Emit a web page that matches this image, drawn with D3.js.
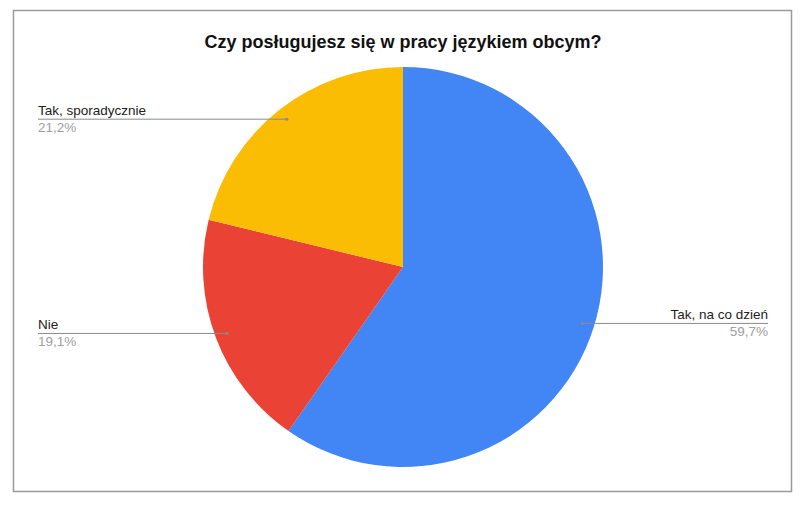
<!DOCTYPE html>
<html>
<head>
<meta charset="utf-8">
<script src="https://cdn.jsdelivr.net/npm/d3@7"></script>
<style>
  body { margin: 0; background: #fff; }
  text { font-family: "Liberation Sans", Arial, sans-serif; }
</style>
</head>
<body>
<div id="chart"></div>
<script>
var svgWidth = 807;
var svgHeight = 517;

// data
var categories = ["Tak, na co dzień", "Nie", "Tak, sporadycznie"];
var shares = [59.7, 19.1, 21.2];
var colors = ["#4285f4", "#ea4335", "#fbbc04"];
var title = "Czy posługujesz się w pracy językiem obcym?";

var cx = 403, cy = 267, radius = 200;

var svg = d3.select("#chart")
  .append("svg")
  .attr("width", svgWidth)
  .attr("height", svgHeight);

svg.append("rect")
  .attr("width", svgWidth)
  .attr("height", svgHeight)
  .attr("fill", "#fff");

// frame around the chart
svg.append("rect")
  .attr("x", 13.5)
  .attr("y", 10.5)
  .attr("width", 778)
  .attr("height", 481)
  .attr("fill", "none")
  .attr("stroke", "#9a9a9a")
  .attr("stroke-width", 1.5);

svg.append("text")
  .attr("x", cx)
  .attr("y", 48)
  .attr("text-anchor", "middle")
  .attr("font-size", "18px")
  .attr("font-weight", "bold")
  .attr("fill", "#111")
  .text(title);

var data = categories.map(function(c, i) {
  return {name: c, value: shares[i], color: colors[i]};
});

var pie = d3.pie()
  .sort(null)
  .value(d => d.value);

var arc = d3.arc()
  .innerRadius(0)
  .outerRadius(radius);

var arcs = pie(data);

var chartGroup = svg.append("g")
  .attr("transform", `translate(${cx}, ${cy})`);

chartGroup.selectAll("path")
  .data(arcs)
  .enter()
  .append("path")
  .attr("d", arc)
  .attr("fill", d => d.data.color);

// labels with horizontal leader lines
var anchorArc = d3.arc()
  .innerRadius(radius * 0.94)
  .outerRadius(radius * 0.94);

var fmt = v => d3.format(".1f")(v).replace(".", ",") + "%";

arcs.forEach(function(d) {
  var p = anchorArc.centroid(d);
  var ax = cx + p[0], ay = cy + p[1];
  var right = p[0] > 0;
  var lx = right ? 768 : 38;

  svg.append("line")
    .attr("x1", ax)
    .attr("y1", ay)
    .attr("x2", lx)
    .attr("y2", ay)
    .attr("stroke", "#8a8a8a")
    .attr("stroke-width", 1);

  svg.append("circle")
    .attr("cx", ax)
    .attr("cy", ay)
    .attr("r", 1.5)
    .attr("fill", "#8a8a8a");

  svg.append("text")
    .attr("x", lx)
    .attr("y", ay - 4)
    .attr("text-anchor", right ? "end" : "start")
    .attr("font-size", "13.5px")
    .attr("fill", "#222")
    .text(d.data.name);

  svg.append("text")
    .attr("x", lx)
    .attr("y", ay + 13)
    .attr("text-anchor", right ? "end" : "start")
    .attr("font-size", "13.5px")
    .attr("fill", "#9e9e9e")
    .text(fmt(d.data.value));
});
</script>
</body>
</html>
